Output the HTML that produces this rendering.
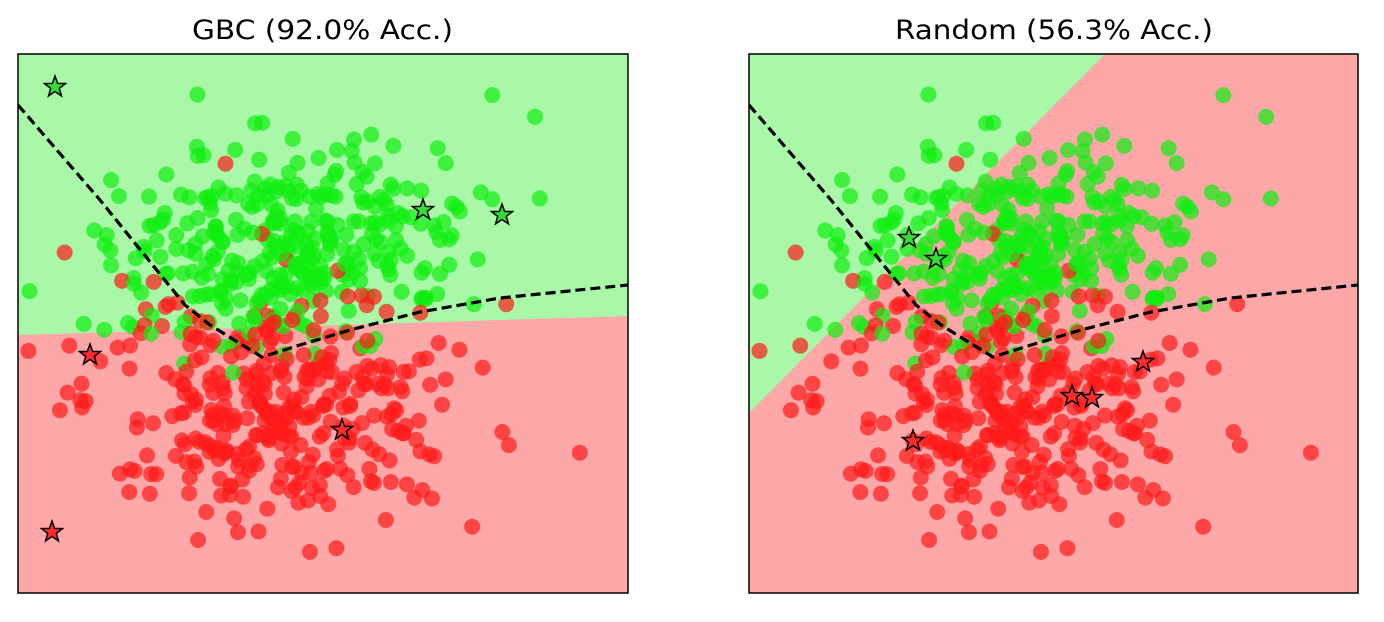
<!DOCTYPE html>
<html><head><meta charset="utf-8"><style>
html,body{margin:0;padding:0;background:#fff;}
svg{display:block;}
text{font-family:"DejaVu Sans","Liberation Sans",sans-serif;}
</style></head><body>
<svg id="s" width="1384" height="622" xmlns="http://www.w3.org/2000/svg">
<defs>
<clipPath id="c1"><rect x="18" y="54" width="610" height="539"/></clipPath>
<clipPath id="c2"><rect x="749" y="54" width="609" height="539"/></clipPath>
</defs>
<text x="192" y="39" font-size="27" textLength="261" lengthAdjust="spacingAndGlyphs">GBC (92.0% Acc.)</text>
<text x="895" y="39" font-size="27" textLength="318" lengthAdjust="spacingAndGlyphs">Random (56.3% Acc.)</text>
<g clip-path="url(#c1)">
<rect x="18" y="54" width="610" height="539" fill="#fca8a8"/>
<polygon points="18,54 628,54 628,316 18,335" fill="#a8f8a8"/>
<g id="p1"></g>
<polyline points="18,105 100,200 185,305 210,325 262,357 300,345 350,330 420,312 500,298 628,285" fill="none" stroke="#000" stroke-width="3.2" stroke-dasharray="10,5"/>
<g id="st1"></g>
</g>
<g clip-path="url(#c2)">
<rect x="749" y="54" width="609" height="539" fill="#fca8a8"/>
<polygon points="749,54 1105,54 749,413" fill="#a8f8a8"/>
<g id="p2"></g>
<polyline points="749,105 831,200 916,305 941,325 993,357 1031,345 1081,330 1151,312 1231,298 1358,285" fill="none" stroke="#000" stroke-width="3.2" stroke-dasharray="10,5"/>
<g id="st2"></g>
</g>
<rect x="18" y="54" width="610" height="539" fill="none" stroke="#000" stroke-width="1.5"/>
<rect x="749" y="54" width="609" height="539" fill="none" stroke="#000" stroke-width="1.5"/>
</svg>
<script>
var seed=12345;function r(){seed=(seed*1103515245+12345)%2147483648;return seed/2147483648;}
function n(){var u=r()||1e-9,v=r();return Math.sqrt(-2*Math.log(u))*Math.cos(2*Math.PI*v);}
var pts=[];
for(var i=0;i<330;i++){var a=n(),b=n();pts.push([290+a*90,245+b*48-a*12,'g']);}
for(var i=0;i<340;i++)pts.push([280+n()*95,405+n()*60,'r']);
for(var i=pts.length-1;i>0;i--){var j=Math.floor(r()*(i+1));var t=pts[i];pts[i]=pts[j];pts[j]=t;}
var ns="http://www.w3.org/2000/svg";
function dot(g,x,y,c){var e=document.createElementNS(ns,'circle');e.setAttribute('cx',x);e.setAttribute('cy',y);e.setAttribute('r',8);e.setAttribute('fill',c=='g'?'#10ee10':'#ff1a1a');e.setAttribute('fill-opacity',0.7);g.appendChild(e);}
var g1=document.getElementById('p1'),g2=document.getElementById('p2');
pts.forEach(function(p){dot(g1,p[0],p[1],p[2]);dot(g2,p[0]+731,p[1],p[2]);});
function star(g,x,y,c){var s='';for(var k=0;k<10;k++){var a=-Math.PI/2+k*Math.PI/5,rr=k%2?4.5:11;s+=(x+rr*Math.cos(a)).toFixed(1)+','+(y+rr*Math.sin(a)).toFixed(1)+' ';}
var e=document.createElementNS(ns,'polygon');e.setAttribute('points',s);e.setAttribute('fill',c=='g'?'#33dd33':'#ff2a2a');e.setAttribute('stroke','#000');e.setAttribute('stroke-width','1.5');g.appendChild(e);}
var s1=document.getElementById('st1'),s2=document.getElementById('st2');
[[55,87,'g'],[423,210,'g'],[502,215,'g'],[90,355,'r'],[342,430,'r'],[52,532,'r']].forEach(function(p){star(s1,p[0],p[1],p[2]);});
[[909,238,'g'],[936,259,'g'],[913,441,'r'],[1072,396,'r'],[1092,398,'r'],[1143,362,'r']].forEach(function(p){star(s2,p[0],p[1],p[2]);});
</script>
</body></html>
